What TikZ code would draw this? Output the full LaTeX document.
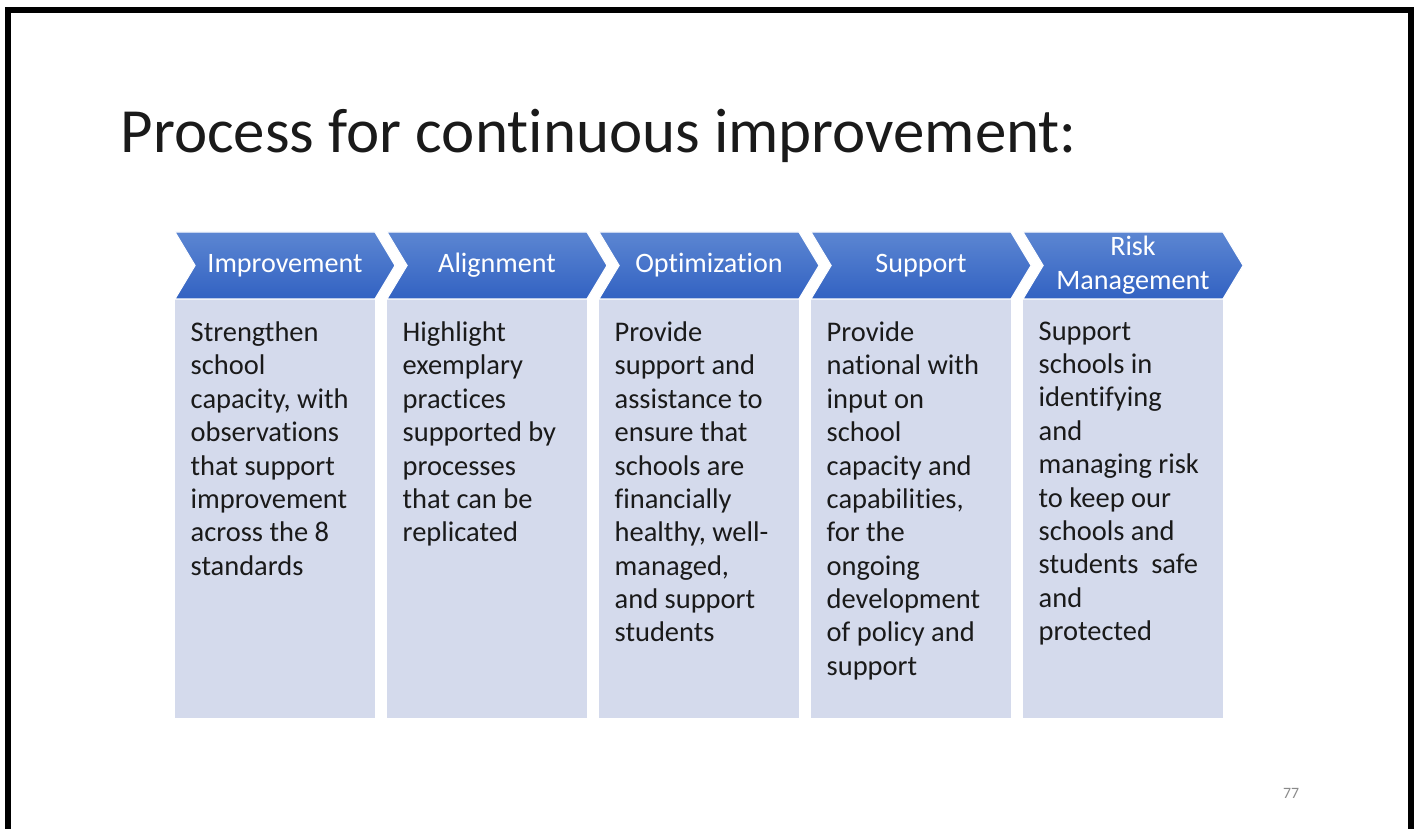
\documentclass[tikz,border=0pt]{standalone}
\usepackage{fontspec}
\setmainfont{Carlito}[Ligatures={NoCommon}]
\usepackage{xcolor}
\usepackage{tikz}
\usetikzlibrary{positioning,shapes.symbols}
\definecolor{chevtop}{HTML}{5C86D2}
\definecolor{chevbot}{HTML}{3262C2}
\definecolor{panel}{HTML}{D4DAEC}
\definecolor{inktext}{HTML}{1A1A1A}
\definecolor{pagegray}{HTML}{8A8A8A}

\begin{document}
\begin{tikzpicture}[
  chev/.style={signal,signal from=west,signal to=east,signal pointer angle=118,
    top color=chevtop,bottom color=chevbot,draw=white,line width=0.3pt,
    minimum width=2.2cm,minimum height=0.67cm,inner sep=0pt,text width=1.75cm,
    align=center,text=white,font=\fontsize{8.0}{9.6}\selectfont},
  panelbox/.style={fill=panel,minimum width=2.0cm,minimum height=4.19cm,inner sep=0pt,outer sep=0pt},
  desc/.style={align=left,inner sep=0pt,text=inktext,font=\fontsize{8.1}{9.5}\selectfont}
]
  \useasboundingbox (0,0) rectangle (14.15,-8.29);
  \draw[line width=0.06cm] (0.08,-8.29) -- (0.08,-0.10) -- (14.11,-0.10) -- (14.11,-8.29);
  \node[anchor=base west,inner sep=0pt,text=inktext,font=\fontsize{17.9}{20}\selectfont] (title) at (1.20,-1.53) {Process for continuous improvement:};

  \node[panelbox,anchor=north west] (p1) at (1.75,-2.99) {};
  \node[panelbox,right=0.12cm of p1] (p2) {};
  \node[panelbox,right=0.12cm of p2] (p3) {};
  \node[panelbox,right=0.12cm of p3] (p4) {};
  \node[panelbox,right=0.12cm of p4] (p5) {};

  \node[chev] (h1) at ([shift={(1.1,0.335)}]p1.north west) {Improvement};
  \node[chev] (h2) at ([shift={(1.1,0.335)}]p2.north west) {Alignment};
  \node[chev] (h3) at ([shift={(1.1,0.335)}]p3.north west) {Optimization};
  \node[chev] (h4) at ([shift={(1.1,0.335)}]p4.north west) {Support};
  \node[chev] (h5) at ([shift={(1.1,0.335)}]p5.north west) {Risk\\Management};

  \node[desc,below right=0.22cm and 0.15cm of p1.north west] (d1) {Strengthen\\school\\capacity, with\\observations\\that support\\improvement\\across the 8\\standards};
  \node[desc,below right=0.22cm and 0.15cm of p2.north west] (d2) {Highlight\\exemplary\\practices\\supported by\\processes\\that can be\\replicated};
  \node[desc,below right=0.22cm and 0.15cm of p3.north west] (d3) {Provide\\support and\\assistance to\\ensure that\\schools are\\financially\\healthy, well-\\managed,\\and support\\students};
  \node[desc,below right=0.22cm and 0.15cm of p4.north west] (d4) {Provide\\national with\\input on\\school\\capacity and\\capabilities,\\for the\\ongoing\\development\\of policy and\\support};
  \node[desc,below right=0.22cm and 0.15cm of p5.north west] (d5) {Support\\schools in\\identifying\\and\\managing risk\\to keep our\\schools and\\students\ \ safe\\and\\protected};

  \node[text=pagegray,font=\fontsize{4.5}{5}\selectfont] (page) at (12.91,-7.93) {77};
\end{tikzpicture}
\end{document}
